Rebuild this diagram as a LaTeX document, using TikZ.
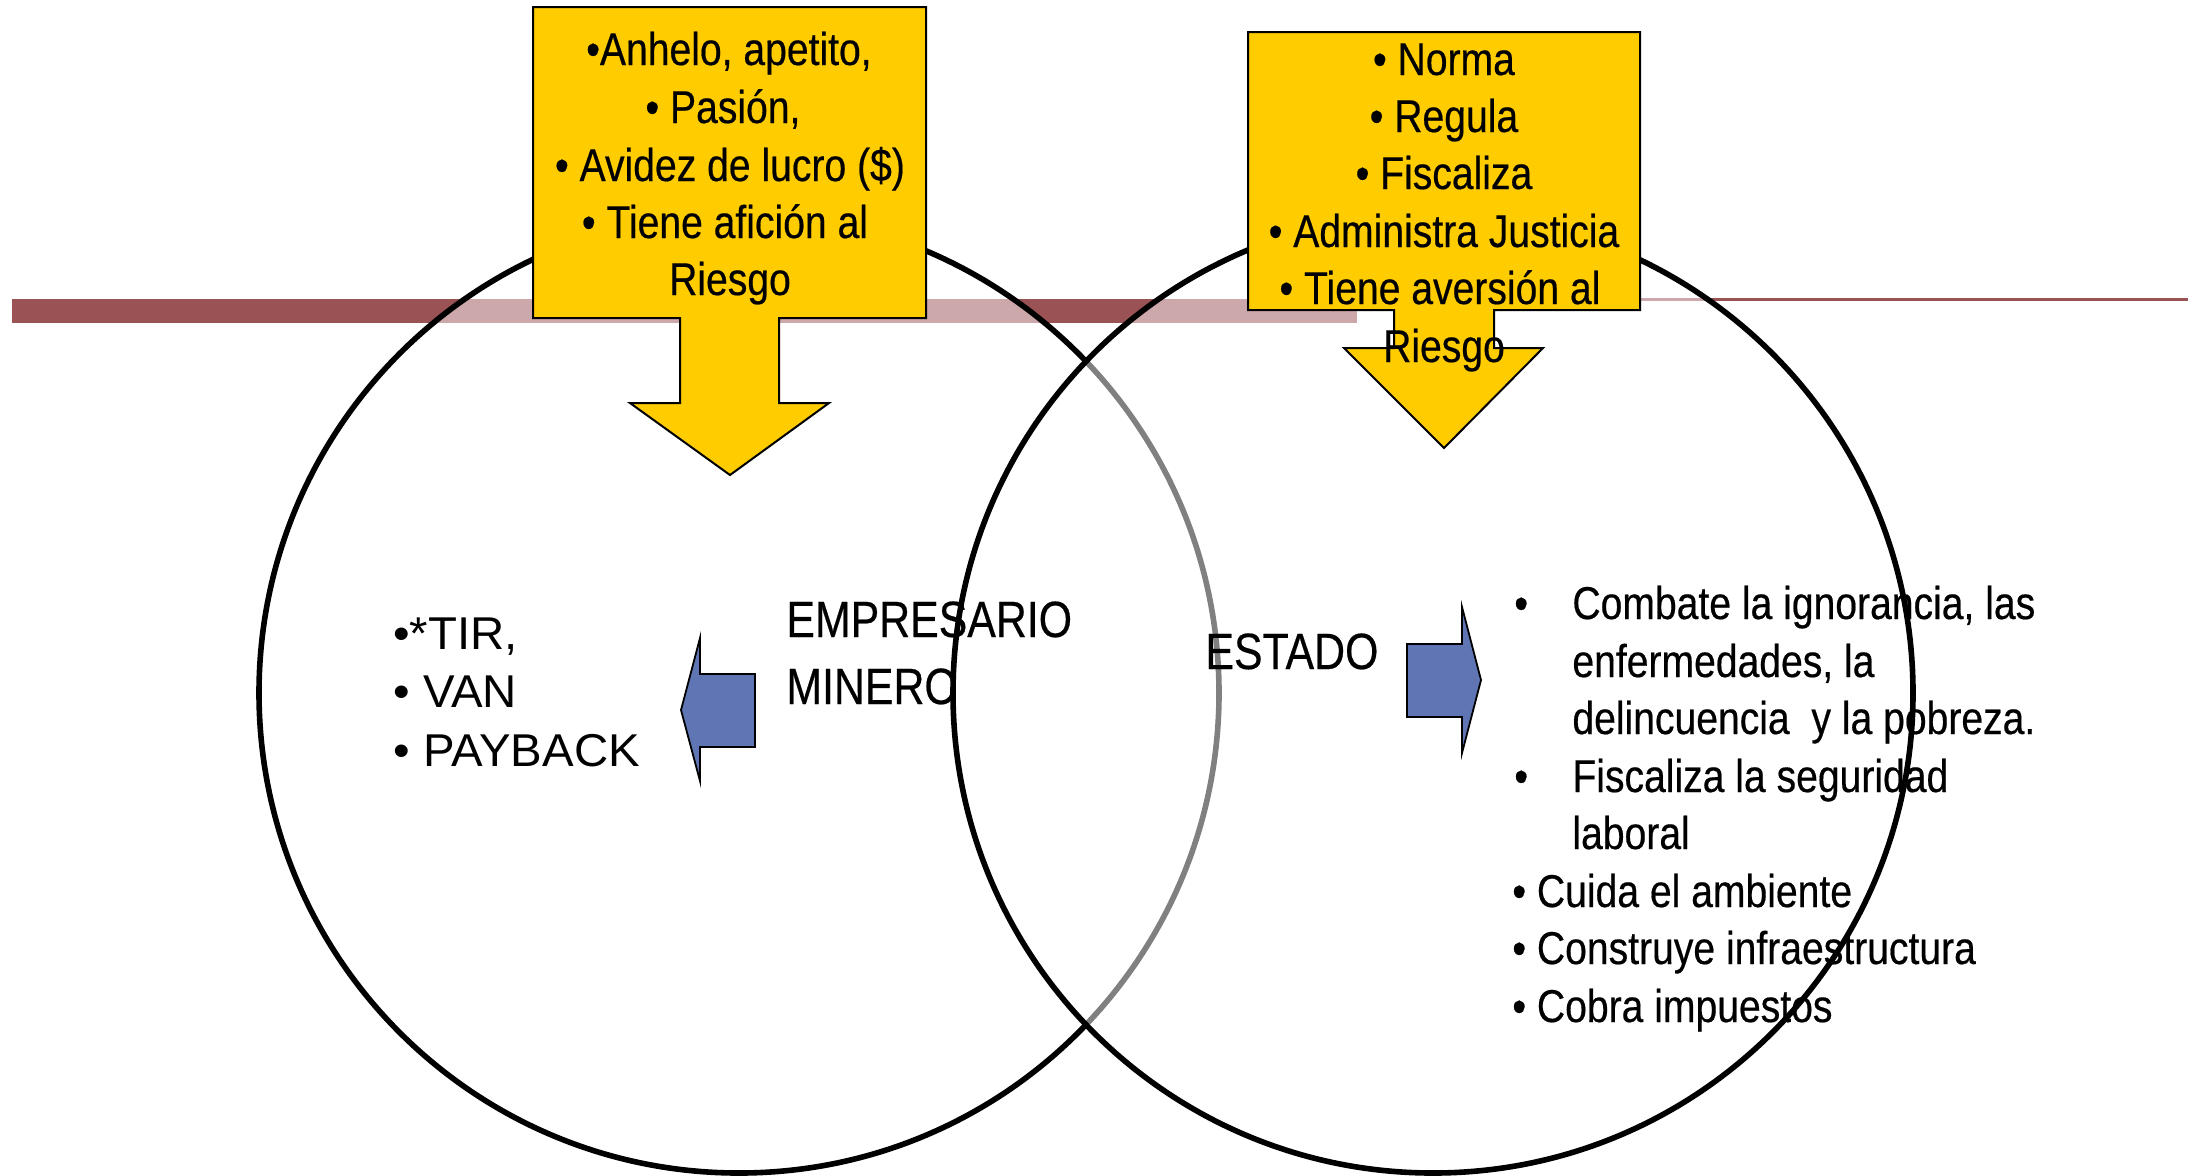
\documentclass[tikz,border=0pt]{standalone}
\usepackage{fontspec}
\setmainfont{Liberation Sans}
\newfontfamily\boxfont{Liberation Sans}[FakeStretch=0.85,FakeBold=0.4]
\newfontfamily\labelfont{Liberation Sans}[FakeStretch=0.84,FakeBold=0.4]
\newfontfamily\leftfont{Liberation Sans}[FakeStretch=1.03]
\definecolor{barred}{RGB}{155,82,85}
\definecolor{callyellow}{RGB}{255,204,0}
\definecolor{arrowblue}{RGB}{96,118,180}
\tikzset{
  venn/.style={draw=black, line width=2.8pt, fill=white, fill opacity=0.5},
  callout/.style={draw=black, line width=1pt, fill=callyellow},
  bluearrow/.style={draw=black, line width=0.9pt, fill=arrowblue},
  boxtxt/.style={inner sep=0pt, anchor=base, font=\boxfont\fontsize{23}{27}\selectfont},
  listtxt/.style={inner sep=0pt, anchor=base west, font=\boxfont\fontsize{23}{27}\selectfont},
  lefttxt/.style={inner sep=0pt, anchor=base west, font=\leftfont\fontsize{23}{27}\selectfont},
  labeltxt/.style={inner sep=0pt, anchor=base west, font=\labelfont\fontsize{25.5}{30}\selectfont},
}
\begin{document}
\begin{tikzpicture}[x=0.5pt,y=-0.5pt]
\path[use as bounding box, fill=white] (0,0) rectangle (2199,1175);
% band
\fill[barred] (12,299) rectangle (1357,323);
\fill[barred] (1357,298) rectangle (2188,301);
% circles
\draw[venn] (739,693) circle[radius=240pt];
\draw[venn] (1433,693) circle[radius=240pt];
% centre labels
\node[labeltxt] (emp1) at (786,637) {EMPRESARIO};
\node[labeltxt] (emp2) at (786,704) {MINERO};
\node[labeltxt] (estado) at (1205,669) {ESTADO};
% left list
\node[lefttxt] (tir) at (393,649) {•*TIR,};
\node[lefttxt] (van) at (393,707) {• VAN};
\node[lefttxt] (pay) at (393,766) {• PAYBACK};
% blue arrows
\draw[bluearrow] (681,710) -- (700,638) -- (700,674) -- (755,674) -- (755,747) -- (700,747) -- (700,781) -- cycle;
\draw[bluearrow] (1407,644) -- (1462,644) -- (1462,607) -- (1481,680) -- (1462,753) -- (1462,717) -- (1407,717) -- cycle;
% right list
\node[listtxt] (b1) at (1514,619) {•};
\node[listtxt] (r1) at (1572,619) {Combate la ignorancia, las};
\node[listtxt] (r2) at (1572,677) {enfermedades, la};
\node[listtxt] (r3) at (1572,734) {delincuencia\ \ y la pobreza.};
\node[listtxt] (b2) at (1514,792) {•};
\node[listtxt] (r4) at (1572,792) {Fiscaliza la seguridad};
\node[listtxt] (r5) at (1572,849) {laboral};
\node[listtxt] (r6) at (1512,907) {• Cuida el ambiente};
\node[listtxt] (r7) at (1512,964) {• Construye infraestructura};
\node[listtxt] (r8) at (1512,1022) {• Cobra impuestos};
% left callout
\draw[callout] (533,7) -- (926,7) -- (926,318) -- (779,318) -- (779,403) -- (829,403) -- (730,475) -- (630,403) -- (680,403) -- (680,318) -- (533,318) -- cycle;
\node[boxtxt] (l1) at (729,65) {•Anhelo, apetito,};
\node[boxtxt] (l2) at (723,123) {• Pasión,};
\node[boxtxt] (l3) at (730,181) {• Avidez de lucro (\$)};
\node[boxtxt] (l4) at (725,238) {• Tiene afición al};
\node[boxtxt] (l5) at (730,295) {Riesgo};
% right callout
\draw[callout] (1248,32) -- (1640,32) -- (1640,310) -- (1494,310) -- (1494,348) -- (1543,348) -- (1444,448) -- (1344,348) -- (1394,348) -- (1394,310) -- (1248,310) -- cycle;
\node[boxtxt] (s1) at (1444,75) {• Norma};
\node[boxtxt] (s2) at (1444,132) {• Regula};
\node[boxtxt] (s3) at (1444,189) {• Fiscaliza};
\node[boxtxt] (s4) at (1444,247) {• Administra Justicia};
\node[boxtxt] (s5) at (1440,304) {• Tiene aversión al};
\node[boxtxt] (s6) at (1444,362) {Riesgo};
\end{tikzpicture}
\end{document}
